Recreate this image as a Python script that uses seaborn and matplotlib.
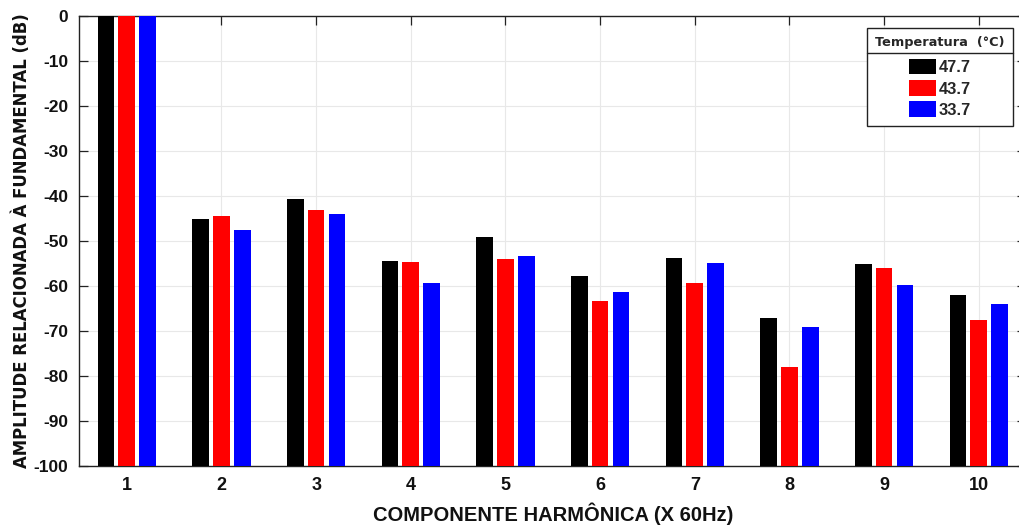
import numpy as np
import pandas as pd
import seaborn as sns
import matplotlib.pyplot as plt
from matplotlib.lines import Line2D
from matplotlib.patches import Patch

harmonicas = ['1', '2', '3', '4', '5', '6', '7', '8', '9', '10']
temperaturas = ['47.7', '43.7', '33.7']
amp_477 = [0, -45.1, -40.6, -54.4, -49.0, -57.8, -53.8, -67.2, -55.0, -62.1]
amp_437 = [0, -44.5, -43.1, -54.6, -54.0, -63.3, -59.3, -77.9, -55.9, -67.6]
amp_337 = [0, -47.6, -44.0, -59.3, -53.3, -61.3, -54.8, -69.1, -59.7, -63.9]
cores = ['#000000', '#ff0000', '#0000ff']
base = -100  # barras partem do fundo do eixo

df = pd.DataFrame({
    'harm': harmonicas * 3,
    'temp': np.repeat(temperaturas, len(harmonicas)),
    'amp': amp_477 + amp_437 + amp_337,
})
df['altura'] = df['amp'] - base

sns.set_theme(style='ticks')
plt.rcParams['axes.unicode_minus'] = False

fig = plt.figure(figsize=(10.19, 5.25), dpi=100)
ax = fig.add_axes([0.078, 0.1124, 0.929, 0.857])

sns.barplot(data=df, x='harm', y='altura', hue='temp', hue_order=temperaturas,
            order=harmonicas, palette=cores, saturation=1, width=0.66, gap=0.2,
            errorbar=None, bottom=base, linewidth=0, ax=ax, zorder=3, legend=False)

ax.set_xlim(-0.5, 9.5)
ax.set_ylim(-100, 0)
ax.set_yticks(np.arange(-100, 1, 10))
ax.set_yticklabels([str(v) for v in range(-100, 1, 10)])
ax.grid(True, color='#e8e8e8', linewidth=0.8, zorder=0)
ax.set_axisbelow(True)

for s in ax.spines.values():
    s.set_visible(True)
    s.set_color('#222222')
    s.set_linewidth(1.0)

ax.tick_params(direction='in', length=6.5, width=0.9, top=True, right=True,
               colors='#222222')
ax.tick_params(axis='y', pad=8)
ax.tick_params(axis='x', pad=8)
for lb in ax.get_yticklabels():
    lb.set_fontfamily('Liberation Sans')
    lb.set_fontweight('bold')
    lb.set_fontsize(12.5)
    lb.set_color('#111111')
for lb in ax.get_xticklabels():
    lb.set_fontfamily(['Liberation Sans Narrow', 'Liberation Sans'])
    lb.set_fontweight('bold')
    lb.set_fontsize(13)
    lb.set_color('#111111')

ax.set_xlabel('COMPONENTE HARMÔNICA (X 60Hz)', fontsize=14.5, fontweight='bold',
              family=['Liberation Sans Narrow', 'Liberation Sans'], labelpad=6,
              color='#111111')
ax.set_ylabel('AMPLITUDE RELACIONADA À FUNDAMENTAL (dB)', fontsize=11.9,
              fontweight='bold', family='DejaVu Sans', labelpad=2, color='#111111')

handles = [Patch(facecolor=c, edgecolor='none') for c in cores]
leg = fig.legend(handles, temperaturas, loc='upper right', bbox_to_anchor=(0.994, 0.947),
                 bbox_transform=fig.transFigure, borderaxespad=0,
                 title='Temperatura  (°C)',
                 prop=dict(family='Liberation Sans', weight='bold', size=11.8),
                 title_fontproperties=dict(family='DejaVu Sans', weight='bold', size=9.3),
                 fancybox=False, framealpha=1, edgecolor='#222222',
                 handlelength=1.65, handleheight=1.1, handletextpad=0.2,
                 labelspacing=0.3, borderpad=0.5)
leg.get_frame().set_linewidth(1.0)
leg._legend_box.sep = 7  # espaco entre titulo e itens

# linha separadora abaixo do titulo da legenda
fig.canvas.draw()
bb = leg.get_window_extent()
tb = leg.get_title().get_window_extent()
y_sep = (tb.y0 - 4) / fig.bbox.height
fig.add_artist(Line2D([bb.x0 / fig.bbox.width, bb.x1 / fig.bbox.width], [y_sep, y_sep],
                      transform=fig.transFigure, color='#222222', linewidth=1.0,
                      zorder=10))

fig.savefig('out.png', dpi=100)
